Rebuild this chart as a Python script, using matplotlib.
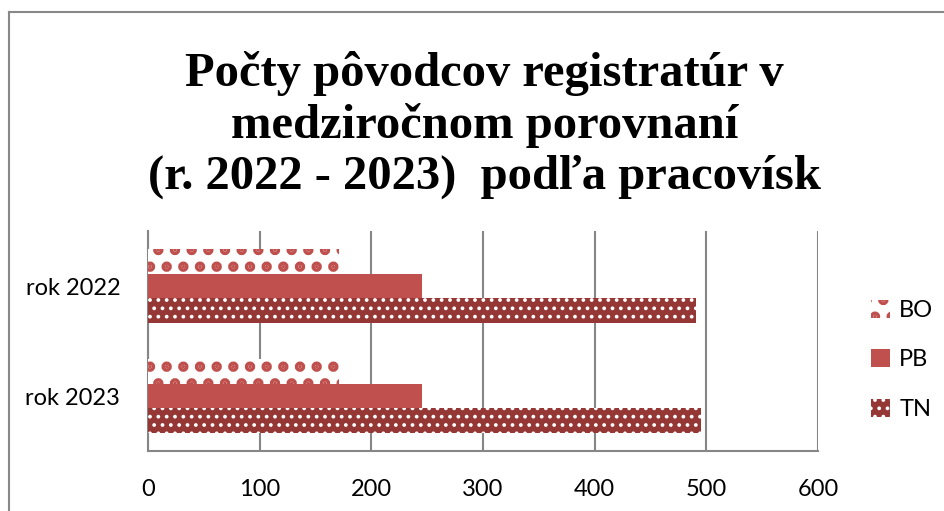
import matplotlib.pyplot as plt
from matplotlib.lines import Line2D
import numpy as np

plt.rcParams['font.family'] = ['Lato', 'DejaVu Sans']
plt.rcParams['hatch.linewidth'] = 3

# data
categories = ['rok 2023', 'rok 2022']
series = ['BO', 'PB', 'TN']
bo = [171, 171]
pb = [245, 245]
tn = [495, 491]
title = 'Počty pôvodcov registratúr v\nmedziročnom porovnaní\n(r. 2022 - 2023)  podľa pracovísk'

fig = plt.figure(figsize=(9.44, 5.11), dpi=100)
ax = fig.add_axes([0.1568, 0.1174, 0.7097, 0.4305])

y = np.arange(len(categories))
h = 0.223
styles = {
    'BO': dict(color='white', edgecolor='#C0504D', hatch='.', linewidth=0),
    'PB': dict(color='#C0504D', linewidth=0),
    'TN': dict(color='#953735', edgecolor='white', hatch='..', linewidth=0),
}
hatch_lw = {'BO': 5, 'PB': 1, 'TN': 1.5}
offsets = {'BO': h, 'PB': 0, 'TN': -h}
bars = []
for name, vals in zip(series, [bo, pb, tn]):
    b = ax.barh(y + offsets[name], vals, height=h, zorder=3,
                label=name, **styles[name])
    for p in b:
        if hasattr(p, 'set_hatch_linewidth'):
            p.set_hatch_linewidth(hatch_lw[name])
    bars.append(b)

ax.set_xlim(0, 600)
ax.set_ylim(-0.5, 1.5)
ax.set_xticks(np.arange(0, 601, 100))
ax.set_yticks(y)
ax.set_yticklabels(categories)
ax.tick_params(axis='both', length=0, labelsize=17)
ax.tick_params(axis='x', pad=20)
ax.tick_params(axis='y', pad=20)
ax.grid(axis='x', color='#868686', linewidth=1.5, zorder=0)
for s in ['top', 'right']:
    ax.spines[s].set_visible(False)
for s in ['left', 'bottom']:
    ax.spines[s].set_color('#868686')
    ax.spines[s].set_linewidth(1.5)

fig.text(0.513, 0.755, title, ha='center', va='center', fontsize=35,
         fontweight='bold', family='Liberation Serif', linespacing=1.2)

leg = fig.legend(handles=bars, loc='center left', bbox_to_anchor=(0.9, 0.296),
                 frameon=False, fontsize=17, handlelength=0.8, handleheight=0.8,
                 handletextpad=0.4, labelspacing=1.2)
for p, name in zip(leg.get_patches(), series):
    if hasattr(p, 'set_hatch_linewidth'):
        p.set_hatch_linewidth(hatch_lw[name])

# chart border (left and top edges)
fig.add_artist(Line2D([9 / 944, 9 / 944], [0, 1 - 12 / 511], color='#888888',
                      linewidth=1.5, transform=fig.transFigure))
fig.add_artist(Line2D([9 / 944, 1], [1 - 12 / 511, 1 - 12 / 511], color='#888888',
                      linewidth=1.5, transform=fig.transFigure))

plt.savefig('out.png', dpi=100)
